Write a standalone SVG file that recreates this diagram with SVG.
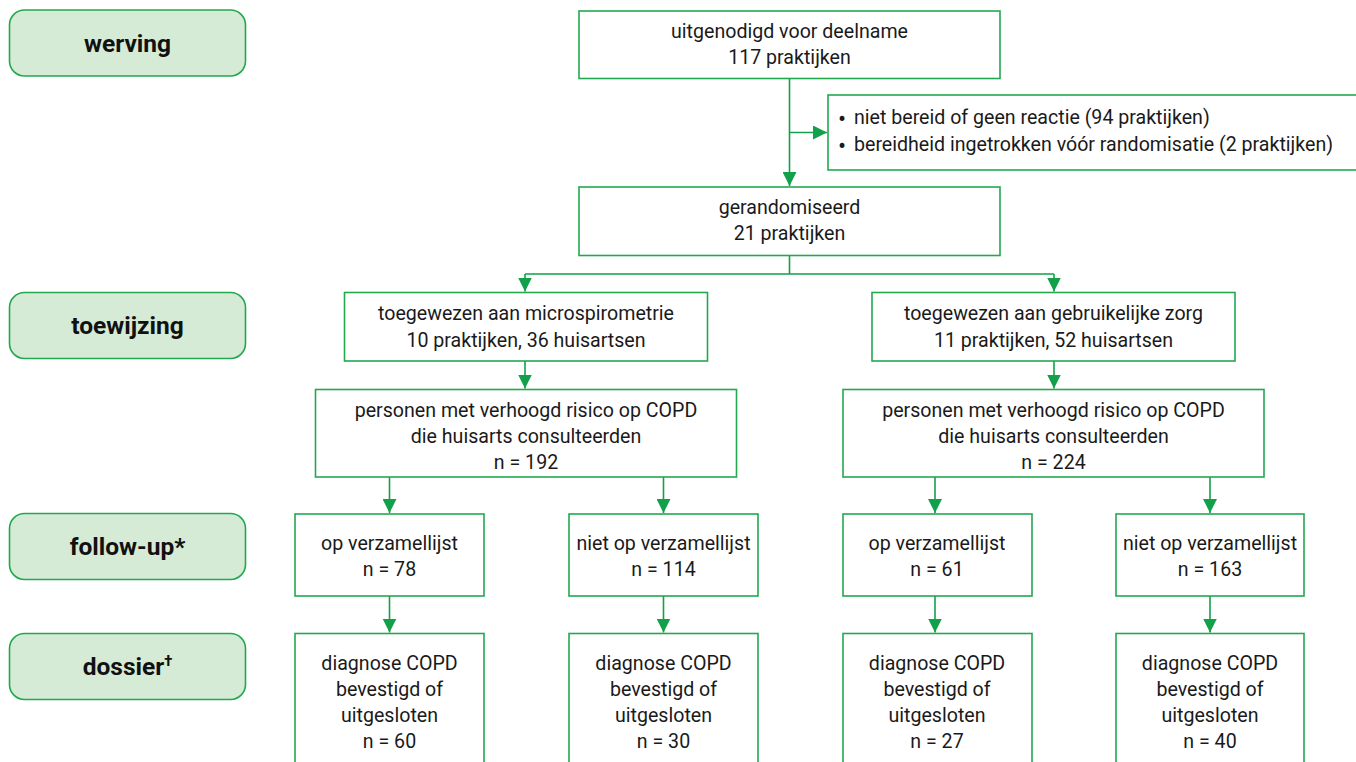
<svg xmlns="http://www.w3.org/2000/svg" width="1356" height="762" viewBox="0 0 1356 762">
<style>
.lbl{fill:#d5ebd6;stroke:#22a84f;stroke-width:1.6}
.box{fill:#ffffff;stroke:#22a84f;stroke-width:1.6}
.lt{font-family:Roboto,"Liberation Sans",sans-serif;font-weight:bold;font-size:24.5px;fill:#111;text-anchor:middle}
.t{font-family:Roboto,"Liberation Sans",sans-serif;font-size:19.6px;fill:#1a1a1a;text-anchor:middle}
.tl{font-family:Roboto,"Liberation Sans",sans-serif;font-size:19.6px;fill:#1a1a1a}
.c{fill:none;stroke:#13a04a;stroke-width:1.6}
</style>
<defs>
<marker id="ah" markerUnits="userSpaceOnUse" markerWidth="14" markerHeight="14" viewBox="0 0 12 12" refX="12" refY="6" orient="auto">
<path d="M0,0 L12,6 L0,12 Z" fill="#13a04a"/>
</marker>
</defs>
<rect width="1356" height="762" fill="#ffffff"/>

<g id="label-werving"><rect class="lbl" x="9.5" y="10" width="236" height="66" rx="15"/><text class="lt" x="127.5" y="51.5">werving</text></g>
<g id="label-toewijzing"><rect class="lbl" x="9.5" y="292.5" width="236" height="66" rx="15"/><text class="lt" x="127.5" y="334">toewijzing</text></g>
<g id="label-followup"><rect class="lbl" x="9.5" y="513.5" width="236" height="66" rx="15"/><text class="lt" x="127.5" y="555">follow-up*</text></g>
<g id="label-dossier"><rect class="lbl" x="9.5" y="633.5" width="236" height="66" rx="15"/><text class="lt" x="127.5" y="675">dossier<tspan font-size="15" dy="-9">†</tspan></text></g>

<g id="connectors">
<path class="c" d="M789.5,78.5 V186" marker-end="url(#ah)"/>
<path class="c" d="M789.5,132.5 H827" marker-end="url(#ah)"/>
<path class="c" d="M789.5,255.5 V274 M525,274 H1054"/>
<path class="c" d="M525,274 V291.5" marker-end="url(#ah)"/>
<path class="c" d="M1054,274 V291.5" marker-end="url(#ah)"/>
<path class="c" d="M525,361 V388.5" marker-end="url(#ah)"/>
<path class="c" d="M1054,361 V388.5" marker-end="url(#ah)"/>
<path class="c" d="M389.5,477 V513" marker-end="url(#ah)"/>
<path class="c" d="M663.5,477 V513" marker-end="url(#ah)"/>
<path class="c" d="M935,477 V513" marker-end="url(#ah)"/>
<path class="c" d="M1210,477 V513" marker-end="url(#ah)"/>
<path class="c" d="M389.5,596 V632.5" marker-end="url(#ah)"/>
<path class="c" d="M663.5,596 V632.5" marker-end="url(#ah)"/>
<path class="c" d="M935,596 V632.5" marker-end="url(#ah)"/>
<path class="c" d="M1210,596 V632.5" marker-end="url(#ah)"/>
</g>

<g id="n-uitgenodigd"><rect class="box" x="579" y="11" width="421" height="67.5"/><text class="t" x="789.5" y="37.5">uitgenodigd voor deelname</text><text class="t" x="789.5" y="63.5">117 praktijken</text></g>
<g id="n-excl"><rect class="box" x="828" y="95" width="540" height="75"/><text class="tl" x="838" y="123.5"><tspan font-size="24" dy="3">•</tspan><tspan x="854" dy="-3">niet bereid of geen reactie (94 praktijken)</tspan></text><text class="tl" x="838" y="150.5"><tspan font-size="24" dy="3">•</tspan><tspan x="854" dy="-3">bereidheid ingetrokken vóór randomisatie (2 praktijken)</tspan></text></g>
<g id="n-gerandomiseerd"><rect class="box" x="579" y="187" width="421" height="68.5"/><text class="t" x="789.5" y="214">gerandomiseerd</text><text class="t" x="789.5" y="239.5">21 praktijken</text></g>
<g id="n-micro"><rect class="box" x="344.5" y="292.5" width="363" height="68.5"/><text class="t" x="526" y="320">toegewezen aan microspirometrie</text><text class="t" x="526" y="346.5">10 praktijken, 36 huisartsen</text></g>
<g id="n-gebruik"><rect class="box" x="872" y="292.5" width="363" height="68.5"/><text class="t" x="1053.5" y="320">toegewezen aan gebruikelijke zorg</text><text class="t" x="1053.5" y="346.5">11 praktijken, 52 huisartsen</text></g>
<g id="n-pers1"><rect class="box" x="315.5" y="389.5" width="421" height="87.5"/><text class="t" x="526" y="417">personen met verhoogd risico op COPD</text><text class="t" x="526" y="443">die huisarts consulteerden</text><text class="t" x="526" y="469">n = 192</text></g>
<g id="n-pers2"><rect class="box" x="843" y="389.5" width="421" height="87.5"/><text class="t" x="1053.5" y="417">personen met verhoogd risico op COPD</text><text class="t" x="1053.5" y="443">die huisarts consulteerden</text><text class="t" x="1053.5" y="469">n = 224</text></g>

<g id="n-f1"><rect class="box" x="295" y="514" width="189" height="82"/><text class="t" x="389.5" y="550">op verzamellijst</text><text class="t" x="389.5" y="575.5">n = 78</text></g>
<g id="n-f2"><rect class="box" x="569" y="514" width="189" height="82"/><text class="t" x="663.5" y="550">niet op verzamellijst</text><text class="t" x="663.5" y="575.5">n = 114</text></g>
<g id="n-f3"><rect class="box" x="843" y="514" width="189" height="82"/><text class="t" x="937" y="550">op verzamellijst</text><text class="t" x="937" y="575.5">n = 61</text></g>
<g id="n-f4"><rect class="box" x="1116" y="514" width="188" height="82"/><text class="t" x="1210" y="550">niet op verzamellijst</text><text class="t" x="1210" y="575.5">n = 163</text></g>

<g id="n-d1"><rect class="box" x="295" y="633.5" width="189" height="140"/><text class="t" x="389.5" y="669.5">diagnose COPD</text><text class="t" x="389.5" y="696">bevestigd of</text><text class="t" x="389.5" y="722">uitgesloten</text><text class="t" x="389.5" y="748">n = 60</text></g>
<g id="n-d2"><rect class="box" x="569" y="633.5" width="189" height="140"/><text class="t" x="663.5" y="669.5">diagnose COPD</text><text class="t" x="663.5" y="696">bevestigd of</text><text class="t" x="663.5" y="722">uitgesloten</text><text class="t" x="663.5" y="748">n = 30</text></g>
<g id="n-d3"><rect class="box" x="843" y="633.5" width="189" height="140"/><text class="t" x="937" y="669.5">diagnose COPD</text><text class="t" x="937" y="696">bevestigd of</text><text class="t" x="937" y="722">uitgesloten</text><text class="t" x="937" y="748">n = 27</text></g>
<g id="n-d4"><rect class="box" x="1116" y="633.5" width="188" height="140"/><text class="t" x="1210" y="669.5">diagnose COPD</text><text class="t" x="1210" y="696">bevestigd of</text><text class="t" x="1210" y="722">uitgesloten</text><text class="t" x="1210" y="748">n = 40</text></g>
</svg>
